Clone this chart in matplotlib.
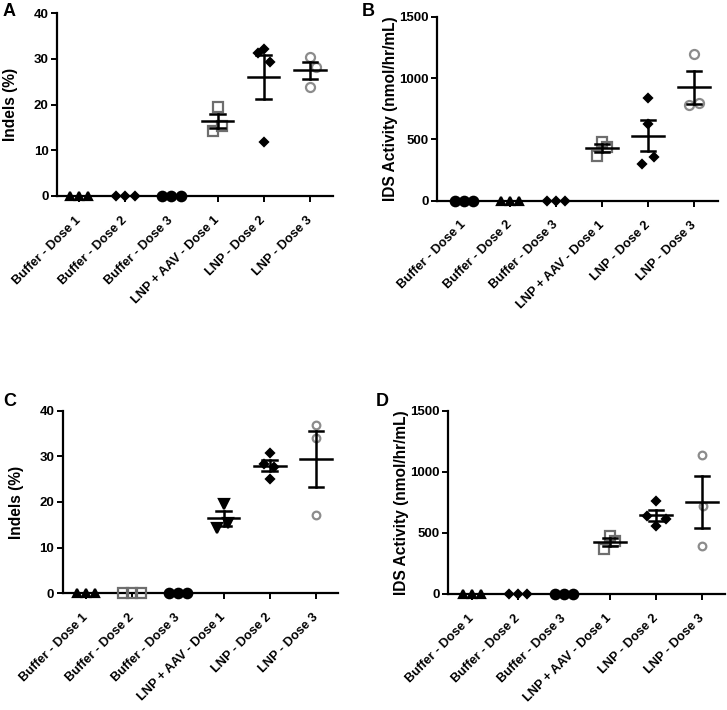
import matplotlib
matplotlib.use("Agg")
import matplotlib.pyplot as plt
import numpy as np

plt.rcParams['font.family'] = ['Liberation Sans', 'DejaVu Sans']
plt.rcParams['font.weight'] = 'bold'

groups = ['Buffer - Dose 1', 'Buffer - Dose 2', 'Buffer - Dose 3',
          'LNP + AAV - Dose 1', 'LNP - Dose 2', 'LNP - Dose 3']

# values per group
A_vals = [[0, 0, 0], [0, 0, 0], [0, 0, 0],
          [19.4, 15.3, 14.3], [32.2, 31.2, 29.2, 11.8], [30.4, 28.1, 23.9]]
B_vals = [[0, 0, 0], [0, 0, 0], [0, 0, 0],
          [478, 435, 366], [839, 623, 359, 299], [1196, 777, 799]]
C_vals = [[0, 0, 0], [0, 0, 0], [0, 0, 0],
          [19.5, 14.2, 15.5], [30.8, 25.0, 28.3, 27.7], [36.8, 34.1, 17.2]]
D_vals = [[0, 0, 0], [0, 0, 0], [0, 0, 0],
          [477, 434, 366], [764, 641, 611, 559], [1140, 723, 395]]

# horizontal scatter of points inside a group
A_jit = [[-0.2, 0, 0.2]] * 3 + [[0, 0.1, -0.1], [0, -0.12, 0.14, 0], [0, 0.13, 0]]
B_jit = [[-0.2, 0, 0.2]] * 3 + [[0, 0.1, -0.12], [0, 0, 0.12, -0.13], [0, -0.12, 0.1]]
C_jit = [[-0.2, 0, 0.2]] * 3 + [[0, -0.14, 0.1], [0, 0, -0.13, 0.1], [0, 0, 0]]
D_jit = [[-0.2, 0, 0.2]] * 3 + [[0, 0.1, -0.13], [0, -0.2, 0.22, 0], [0, 0.03, 0]]

blk = 'black'
gsq = '#6e6e6e'
gci = '#8c8c8c'
# (marker, facecolor, edgecolor, size)
tri = ('^', blk, blk, 6)
dia = ('D', blk, blk, 4.2)
cir = ('o', blk, blk, 6.8)
sq_open = ('s', 'none', gsq, 6.5)
dia2 = ('D', blk, blk, 4.5)
ci_open = ('o', 'none', gci, 6.5)
tri_dn = ('v', blk, blk, 6.5)

A_sty = [tri, dia, cir, sq_open, dia2, ci_open]
B_sty = [cir, tri, dia, sq_open, dia2, ci_open]
C_sty = [tri, sq_open, cir, tri_dn, dia2, ('o', 'none', gci, 5.5)]
D_sty = [tri, dia, cir, sq_open, dia2, ('o', 'none', gci, 5.5)]

W, H = 727, 710
fig = plt.figure(figsize=(W / 100, H / 100), dpi=100)


def panel(rect, vals, jit, sty, ymax, yticks, ylabel, xlim, letter, lpos):
    l, r, t, b = rect
    ax = fig.add_axes([l / W, 1 - b / H, (r - l) / W, (b - t) / H])
    for i, (v, j, s) in enumerate(zip(vals, jit, sty)):
        v = np.array(v, dtype=float)
        m, fc, ec, ms = s
        ax.plot(i + np.array(j), v, ls='none', marker=m, mfc=fc, mec=ec,
                ms=ms, mew=1.6, clip_on=False, zorder=3)
        mean = v.mean()
        sem = v.std(ddof=1) / np.sqrt(len(v))
        if mean > 0:
            ax.plot([i - 0.34, i + 0.34], [mean, mean], color='black', lw=1.8, zorder=4)
            ax.plot([i, i], [mean - sem, mean + sem], color='black', lw=1.8, zorder=4)
            for y in (mean - sem, mean + sem):
                ax.plot([i - 0.16, i + 0.16], [y, y], color='black', lw=1.8, zorder=4)
    ax.set_xlim(*xlim)
    ax.set_ylim(0, ymax)
    ax.set_yticks(yticks)
    ax.set_xticks(range(len(groups)))
    ax.set_xticklabels(groups, rotation=45, ha='right', va='center',
                       rotation_mode='anchor', fontsize=9.2, fontweight='bold')
    for lab in ax.get_yticklabels():
        lab.set_fontsize(9.5)
        lab.set_fontweight('bold')
    for sp in ('top', 'right'):
        ax.spines[sp].set_visible(False)
    for sp in ('left', 'bottom'):
        ax.spines[sp].set_linewidth(1.6)
    ax.tick_params(direction='out', length=4, width=1.4, pad=2)
    ax.tick_params(axis='x', pad=12)
    ax.set_ylabel(ylabel, fontsize=11.2, fontweight='bold')
    ax.yaxis.set_label_coords(-39 / (r - l), 0.5)
    fig.text(lpos[0] / W, 1 - lpos[1] / H, letter, fontsize=13, fontweight='bold',
             ha='left', va='center')
    return ax


panel((57, 333, 13, 196), A_vals, A_jit, A_sty, 40, [0, 10, 20, 30, 40],
      'Indels (%)', (-0.48, 5.5), 'A', (3, 11))
panel((437, 718, 16.7, 200.7), B_vals, B_jit, B_sty, 1500, [0, 500, 1000, 1500],
      'IDS Activity (nmol/hr/mL)', (-0.59, 5.52), 'B', (362, 11))
panel((62.7, 338, 410.7, 593.3), C_vals, C_jit, C_sty, 40, [0, 10, 20, 30, 40],
      'Indels (%)', (-0.5, 5.48), 'C', (3, 402))
panel((448.3, 725, 410.7, 594), D_vals, D_jit, D_sty, 1500, [0, 500, 1000, 1500],
      'IDS Activity (nmol/hr/mL)', (-0.51, 5.5), 'D', (376, 402))

fig.savefig('out.png', dpi=100)
